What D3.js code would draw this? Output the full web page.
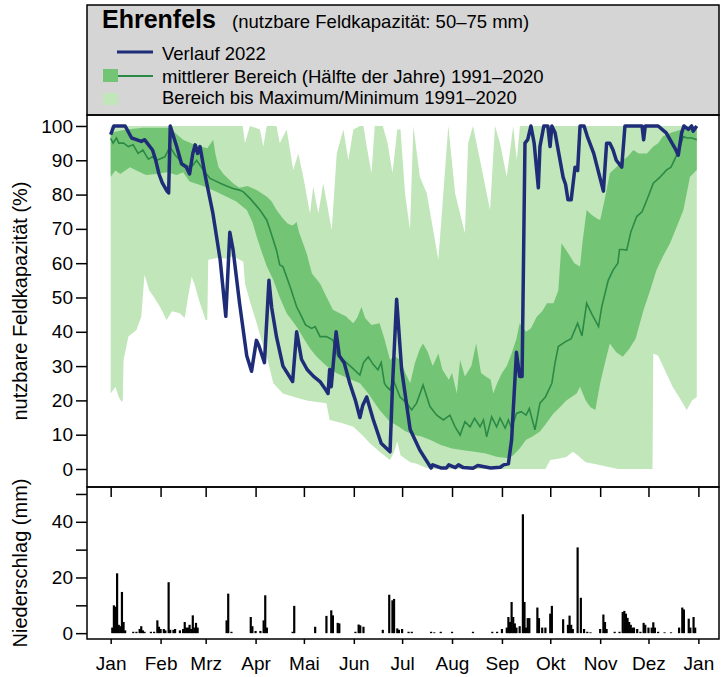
<!DOCTYPE html>
<meta charset="utf-8" />
<title>Ehrenfels Bodenfeuchte</title>
<script src="https://d3js.org/d3.v7.min.js"></script>
<style>
  body { margin: 0; background: #fff; }
  svg { display: block; font-family: "Liberation Sans", Arial, sans-serif; }
  .tick text { font-size: 19px; fill: #000; }
</style>
<div id="chart"></div>
<script>
  // Monate (Tag im Jahr 2022, 0 = 1. Januar)
  var monthLabels = ["Jan", "Feb", "Mrz", "Apr", "Mai", "Jun", "Jul", "Aug", "Sep", "Okt", "Nov", "Dez", "Jan"];
  var monthStarts = [0, 31, 59, 90, 120, 151, 181, 212, 243, 273, 304, 334, 365];

  // nutzbare Feldkapazität 2022 (%)
  var verlauf2022 = [[0,97.5],[2,100],[9,100],[13,96.5],[16,96],[19,95.5],[21,96],[26,93],[28,90],[30,86],[32,83.5],[35,81],[36,80.5],[37,100],[41,94],[44,89],[47,88],[49,86],[51,92],[52.5,94.5],[54,92],[55.5,94],[58.5,86],[63.5,74.5],[68,61],[71.5,44.5],[74,69],[76,64],[80,48.5],[84.5,33],[87.5,28.5],[90.5,37.5],[92,36],[95.5,31],[98.3,55],[100,47],[103,38.5],[107,30],[113,25.5],[115.5,40],[118.5,32],[122,29],[126,27],[130,25.5],[133,23.5],[135,22],[136,29],[137,24],[140,40],[142,33],[145,31],[148.5,25],[152,20],[154.8,15],[156.5,18.5],[159,21],[163,14.5],[168,7.5],[173.5,5],[175,24],[177.6,49.5],[180.7,29],[186,11.5],[192,5.5],[199,0.3],[200,1.2],[205,0.3],[208.5,0.3],[210,1.2],[214,0.4],[216,1.2],[219,0.4],[225,0.2],[228,1.0],[236,0.3],[242,0.5],[244,1.2],[247,1.5],[249,8.5],[252,34],[254,27],[255.5,27],[257.3,95],[259,96],[261,100],[263,95],[265.6,82],[266.6,94],[269,100],[271.5,100],[272.9,94],[274,100],[276,98],[281,85],[282.5,83],[284,78.5],[286,78.5],[288.4,88],[290,87],[291.5,100],[294,100],[296,97],[300,92],[306,81],[308,95],[310,95],[312,93],[314,90],[317.4,88],[319.4,100],[330,100],[331,96],[332,100],[340,100],[345,98],[350.5,93.5],[352.5,91.5],[354.6,98],[356,100],[358.8,99],[360.8,100],[361.8,98.5],[364,100]];

  // Median 1991-2020
  var median = [[0,96.4],[1.5,95],[3.6,96.5],[5,95],[8,95],[11,94],[14,94.5],[17,92],[20,93],[23.4,90.3],[26,91],[28.5,90],[33.7,91],[36.8,94],[40,91.5],[45,89],[49,88],[51,88.5],[53.4,90],[57.5,87.2],[61.7,84.7],[65,84],[68,83.3],[72,82.5],[76,81.8],[80,81.3],[82.4,80.8],[86.5,78.9],[90,77],[92.7,75.5],[96.9,72.6],[99,69.7],[103,63.8],[105,59.5],[107,59],[111.4,53.2],[115.5,47.3],[118.6,44.4],[121,42],[124.8,41],[127,41.5],[130,38.6],[134,38.6],[138,37.6],[141,33],[144.5,31.8],[150,29.5],[154.8,27.4],[157,31],[160,32.7],[163,30.5],[166,28.9],[168,31],[170,25],[171.4,24],[173.5,23],[175.5,26],[179.7,21],[183.8,19.2],[186.9,17.2],[190,19.2],[194,24.5],[198.3,18.2],[202.5,15.7],[206.6,14.3],[210.7,15.7],[213.9,12.3],[217,9.9],[220,13.8],[223.2,12.3],[226,14.8],[229.4,12.3],[231.5,14.3],[233.5,9.4],[236.6,15.2],[239.7,12.3],[241.8,14.8],[245,11.9],[247,14.3],[249,11.9],[252,16.2],[255,16.7],[258,15.7],[260,17.6],[263.5,11.4],[266.6,19.2],[270,21],[274,25],[276,31],[278,35.7],[282,37],[286,38],[290,42.5],[292.7,38.8],[295.6,48.3],[299,45],[303,41.5],[305,47.3],[309,55],[312,58],[315,60],[316,64],[318,64],[320.5,63.8],[323,69],[326.7,73.6],[330,75],[333,78.4],[337,83.3],[341,85],[345.3,87.2],[348,88],[351,91],[353.6,94],[355.7,96.9],[358,96.5],[361,96.5],[364,96]];

  // mittlerer Bereich: oberes / unteres Quartil
  var q75 = [[0,98],[5,98.5],[10,99],[20,99.5],[36,99.5],[40,98],[45,96],[50,95],[56,94],[60,93.5],[63.7,96],[65,92],[67,88],[70,86],[76,83.3],[80,82],[85,82.5],[90.7,81.3],[97,79.4],[100,78],[103,75.5],[107,73],[110,71.5],[113,71],[115.5,72],[117,69],[121.7,62.9],[125,57],[130,54.1],[134,50.2],[138,46.4],[142,45.5],[146,44.5],[150.7,42.5],[153,44],[155.8,47.3],[158,44],[162,42],[167,42.5],[170,38],[173.5,31.8],[176,33],[180,31.8],[183,28],[186,25],[189,31],[192,35],[194,36.6],[197,34],[200,30],[203.5,33.7],[206,29],[210,26],[212,28],[215,22],[217,31.8],[220,27],[224,30],[227,36.6],[230,28],[233,27],[236,26],[237.6,22],[240,25],[243,28],[246,30],[249,33.7],[252,38],[254,42.5],[258,40],[261,41],[264.6,44.4],[268,46],[271,48.3],[275,48.3],[278,52],[280,65.8],[284,63],[288,60],[291.5,59],[293,66],[295.6,75.5],[299,74],[302,73],[304,72.6],[307,79],[310,86.2],[314,88],[318,90],[321,91],[324.6,93],[328,92],[333,92],[337,94],[340,95],[343,97],[348,98],[353.6,98.8],[358,99.5],[364,100]];
  var q25 = [[0,85.2],[3,87],[6,86],[12,88],[16,87],[22,85.7],[28,86],[35,86.5],[41,85.7],[45,86.5],[49,83.8],[55.5,82.8],[60,82],[65,81],[72,79.4],[78,78],[84.5,75.5],[88,72],[90.7,67.7],[94,63],[97,59],[101,55.1],[105,50],[109.3,45.4],[115.5,41.5],[120,38],[124,35],[128,32.7],[134,30],[140.4,27.9],[147,26.5],[154.8,25],[160,22],[167,17.2],[173,14],[179,12.3],[183,11],[188,10],[193,9.5],[198.3,8.5],[205,7],[212,6],[219,5.5],[226,5],[233,4.5],[239.7,3.6],[247,3.1],[250,4],[254,6],[258,8.5],[262,9.5],[266.6,10.9],[270,13],[275,16.2],[279,18],[283,20],[289.4,22],[291.5,24],[295,20],[298,18],[301,17.2],[304,25],[307,31],[310,36.6],[314,34],[318,32.7],[322,35],[326,38],[331,46.4],[335,52],[339,58],[343,62],[347.4,65.8],[351,70],[355.7,75.5],[359.8,85.2],[364,87.2]];

  // Bereich bis Maximum / Minimum
  var maxV = [[0,100],[82,100],[83.4,95],[86.5,100],[92.7,99],[94.8,94],[96.9,100],[103,100],[105,95],[109.3,99],[113.4,87.2],[116.5,92],[119.6,85.2],[123.8,74.5],[125.8,82.3],[129,74.5],[132,83.3],[137.3,69.7],[140.4,92],[144.5,99],[147.6,90],[150.7,99],[154.8,100],[157,100],[159,94],[162,86.2],[164,100],[169,100],[172,95],[175,86.2],[178,99],[180,99],[182.8,80.4],[185.9,69.7],[188,100],[192,85.2],[196.3,80.4],[203.5,61],[206.6,80.4],[209.7,100],[213.9,80.4],[220,68.7],[222,95],[225,100],[229.4,90],[235.6,75.5],[238.7,100],[241.8,95],[246,85.2],[250,100],[252.2,90],[254.2,100],[364,100]];
  var minV = [[0,22],[3,24],[5,21],[6.8,19.6],[7.5,20],[8,31.8],[11,38.6],[16,40.5],[19,44.4],[21,56.6],[24,52],[27,50],[30.6,47.3],[34.8,43.4],[38,46],[43,45.4],[46,44],[48,50],[50.3,56],[52,54],[55,49],[59,43.4],[60,43.4],[60.6,61],[66,61.5],[72,61.4],[76,62],[82.4,60.4],[83.4,54.1],[87,48],[90.7,42.5],[94,37],[97,32.7],[101,25],[107,22],[114,21],[121.7,20],[128,19.5],[134,19.2],[136,14.3],[143,13.5],[150.7,12.3],[156,10],[161,7.5],[167,5],[173.5,2.6],[176,5],[178,8],[180,4],[183,3],[186,2],[190,1.5],[195,0.5],[199,0],[270,0],[273,2.6],[278,3],[283,3.5],[287,5],[290,4],[295,2],[300,1.5],[305,1],[310,0.5],[315,0],[336.5,0],[337,33.7],[340,33],[343,30],[346,27],[349,24],[353,21],[357.8,17.2],[361,20],[364,21]];

  // Niederschlag 2022 (mm pro Tag)
  var niederschlag = [[1,2],[2,10],[3,9.5],[4,21.5],[5,3],[6,2.5],[7,14.8],[8,4],[9,1],
    [14,0.5],[16,0.5],[18,1.5],[19,2.5],[20,1],[21,0.5],
    [25,0.5],[27,0.5],[29,4.6],[30,2.3],[31,1.5],[33,1.5],[34,1],[36,18.3],[37,1.2],[39,1.2],[40,1.5],
    [43,1],[45,1.5],[46,4],[47,2],[48,2],[49,3],[50,1.5],[51,6.4],[52,2],[53,3.7],[54,2],
    [72,4.6],[73,14.2],[75,0.5],
    [87,5.8],[88,2.5],[90,0.8],[93,0.8],[95,4.6],[96,13.6],[97,2],
    [113,0.5],[114,9.8],[127,2.3],
    [134,6.2],[137,8.2],[138,6.4],[141,3.7],[142,3.5],
    [152,0.5],[154,3.1],[155,2.8],[157,2.3],[169,1.2],
    [173,13.8],[175,11.8],[176,12.3],[178,1.7],[179,1.2],[181,1.5],[185,0.5],[187,0.5],
    [199,0.5],[201,0.3],[205,0.5],[212,0.5],[225,0.5],[237,0.5],[240,0.5],[243,1.5],
    [246,2],[247,5.8],[248,4],[249,11.2],[250,5.8],[251,3.5],[252,2],
    [254,2.5],[256,42.7],[257,11.2],[258,2],[259,5.4],[260,5.4],
    [265,9.2],[266,5.4],[268,2],[270,2],[273,7],[274,9.8],
    [281,5],[284,3],[285,6.3],[286,3],[287,1.5],[290,30.8],[292,12.7],[294,1.5],[296,0.5],[298,0.3],
    [304,1.5],[306,6.7],[307,4],[308,1.5],[313,0.5],[316,0.5],
    [318,7.6],[319,8],[320,7],[321,5.5],[322,4],[323,3],[324,2],[325,2],[327,1.5],[329,0.5],
    [331,3.7],[332,3],[334,2],[336,2],[337,3.9],[338,2],[340,0.5],[344,0.3],[348,0.3],
    [353,2],[355,9.2],[356,8.5],[359,5.2],[360,2],[362,5.8],[363,2]];

  var W = 721, H = 677;
  var left = 87, right = 719;
  var headTop = 5, mainTop = 115, mainBottom = 487, rainBottom = 639;

  var svg = d3.select("#chart").append("svg")
    .attr("width", W).attr("height", H);

  var x = d3.scaleLinear().domain([-14.7, 377.8]).range([left, right]);
  var yMain = d3.scaleLinear().domain([-5.25, 103.2]).range([mainBottom, mainTop]);
  var yRain = d3.scaleLinear().domain([-2.1, 52.5]).range([rainBottom, mainBottom]);

  var line = d3.line().x(d => x(d[0])).y(d => yMain(d[1]));
  function band(upper, lower) {
    return line(upper.concat(lower.slice().reverse())) + "Z";
  }

  // header box with legend
  svg.append("rect")
    .attr("x", left).attr("y", headTop)
    .attr("width", right - left).attr("height", mainTop - headTop)
    .attr("fill", "#d5d5d5").attr("stroke", "#000").attr("stroke-width", 1.5);

  svg.append("text").attr("x", 102).attr("y", 28)
    .attr("font-size", 25).attr("font-weight", "bold").text("Ehrenfels");
  svg.append("text").attr("x", 232).attr("y", 28)
    .attr("font-size", 18.5).text("(nutzbare Feldkapazität: 50–75 mm)");

  var lg = svg.append("g").attr("font-size", 18.5);
  lg.append("line").attr("x1", 117).attr("x2", 153).attr("y1", 52).attr("y2", 52)
    .attr("stroke", "#1f2c78").attr("stroke-width", 3);
  lg.append("text").attr("x", 162).attr("y", 60).text("Verlauf 2022");
  lg.append("rect").attr("x", 103).attr("y", 69).attr("width", 15).attr("height", 13)
    .attr("fill", "#74c476");
  lg.append("line").attr("x1", 118).attr("x2", 153).attr("y1", 76).attr("y2", 76)
    .attr("stroke", "#2b8a46").attr("stroke-width", 2);
  lg.append("text").attr("x", 162).attr("y", 83).text("mittlerer Bereich (Hälfte der Jahre) 1991–2020");
  lg.append("rect").attr("x", 103).attr("y", 93).attr("width", 15).attr("height", 12)
    .attr("fill", "#c0e6ba");
  lg.append("text").attr("x", 162).attr("y", 104).text("Bereich bis Maximum/Minimum 1991–2020");

  // main panel
  svg.append("clipPath").attr("id", "clipMain").append("rect")
    .attr("x", left).attr("y", mainTop).attr("width", right - left).attr("height", mainBottom - mainTop);
  var gMain = svg.append("g").attr("clip-path", "url(#clipMain)");

  gMain.append("path").attr("d", band(maxV, minV)).attr("fill", "#c0e6ba");
  gMain.append("path").attr("d", band(q75, q25)).attr("fill", "#74c476");
  gMain.append("path").datum(median).attr("d", line)
    .attr("fill", "none").attr("stroke", "#2b8a46").attr("stroke-width", 1.6);
  gMain.append("path").datum(verlauf2022).attr("d", line)
    .attr("fill", "none").attr("stroke", "#1f2c78").attr("stroke-width", 3.5)
    .attr("stroke-linejoin", "round");

  // precipitation bars
  svg.append("g").selectAll("line").data(niederschlag).join("line")
    .attr("x1", d => x(d[0])).attr("x2", d => x(d[0]))
    .attr("y1", yRain(0)).attr("y2", d => yRain(d[1]))
    .attr("stroke", "#000").attr("stroke-width", 2.2);

  // axes
  var yAxisMain = svg.append("g").attr("transform", "translate(" + left + ",0)")
    .call(d3.axisLeft(yMain).tickValues(d3.range(0, 101, 10)).tickSize(11).tickPadding(3));
  var yAxisRain = svg.append("g").attr("transform", "translate(" + left + ",0)")
    .call(d3.axisLeft(yRain).tickValues([0, 10, 20, 30, 40, 50]).tickSize(11).tickPadding(3)
      .tickFormat(d => (d % 20 === 0 ? d : "")));
  var xAxisMain = svg.append("g").attr("transform", "translate(0," + mainBottom + ")")
    .call(d3.axisBottom(x).tickValues(monthStarts).tickSize(10).tickFormat(""));
  var xAxisRain = svg.append("g").attr("transform", "translate(0," + rainBottom + ")")
    .call(d3.axisBottom(x).tickValues(monthStarts).tickSize(5).tickPadding(13)
      .tickFormat((d, i) => monthLabels[i]));
  xAxisRain.selectAll("text").attr("font-size", 20);

  [yAxisMain, yAxisRain, xAxisMain, xAxisRain].forEach(function (a) {
    a.select(".domain").remove();
    a.selectAll(".tick line").attr("stroke-width", 1.5);
  });

  // panel frames
  svg.append("rect").attr("x", left).attr("y", mainTop)
    .attr("width", right - left).attr("height", mainBottom - mainTop)
    .attr("fill", "none").attr("stroke", "#000").attr("stroke-width", 1.5);
  svg.append("rect").attr("x", left).attr("y", mainBottom)
    .attr("width", right - left).attr("height", rainBottom - mainBottom)
    .attr("fill", "none").attr("stroke", "#000").attr("stroke-width", 1.5);

  // axis titles
  svg.append("text").attr("transform", "translate(27," + (mainTop + mainBottom) / 2 + ") rotate(-90)")
    .attr("text-anchor", "middle").attr("font-size", 20).text("nutzbare Feldkapazität (%)");
  svg.append("text").attr("transform", "translate(27," + (mainBottom + rainBottom) / 2 + ") rotate(-90)")
    .attr("text-anchor", "middle").attr("font-size", 20).text("Niederschlag (mm)");
</script>
